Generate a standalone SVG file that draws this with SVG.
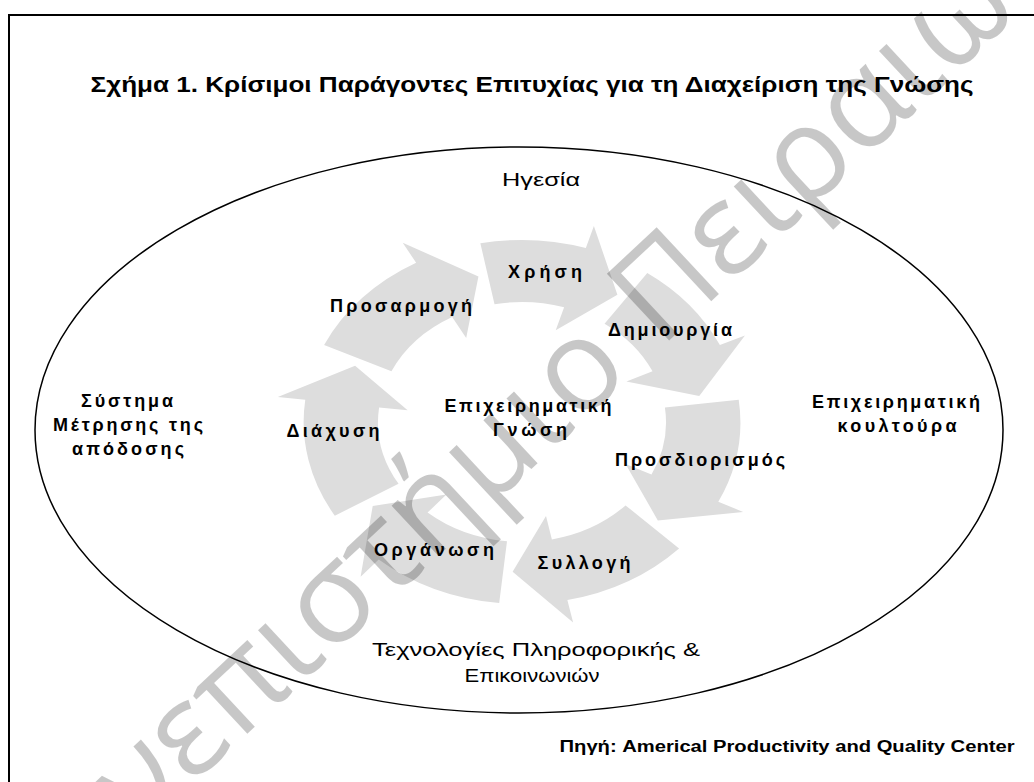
<svg xmlns="http://www.w3.org/2000/svg" width="1034" height="782" viewBox="0 0 1034 782">
<style>
  .lbl { font-family: "Liberation Sans", Arial, sans-serif; font-size: 18px; font-weight: bold; fill: #000; text-anchor: middle; }
  .reg { font-family: "Liberation Sans", Arial, sans-serif; font-size: 18px; font-weight: normal; fill: #000; text-anchor: middle; }
  .title { font-family: "Liberation Sans", Arial, sans-serif; font-size: 22px; font-weight: bold; fill: #000; text-anchor: middle; }
  .src { font-family: "Liberation Sans", Arial, sans-serif; font-size: 16px; font-weight: bold; fill: #000; text-anchor: middle; }
  .arrow { fill: #dddddd; stroke: none; }
  .wm { font-family: "Open Sans", "Noto Sans", sans-serif; font-size: 128px; font-weight: normal; fill: #000; fill-opacity: 0.22; }
</style>
<rect width="1034" height="782" fill="#fff"/>
<rect x="9" y="15" width="1040" height="800" fill="none" stroke="#000" stroke-width="2"/>

<g id="title">
  <text class="title" x="532" y="92" textLength="883" lengthAdjust="spacingAndGlyphs">Σχήμα 1. Κρίσιμοι Παράγοντες Επιτυχίας για τη Διαχείριση της Γνώσης</text>
</g>

<g id="outer-ellipse">
  <ellipse cx="519" cy="430" rx="484" ry="283" fill="none" stroke="#000" stroke-width="1.5"/>
</g>

<g id="cycle-arrows" transform="translate(522,422) scale(1.2,1)">
  <path class="arrow" d="M -164.9,-76.9 A182,182 0 0 1 -88.2,-159.2 L -99.4,-179.3 L -36.3,-145.5 L -46.5,-84.0 L -58.2,-105.0 A120,120 0 0 0 -108.8,-50.7 Z"/>
  <path class="arrow" d="M -34.7,-178.7 A182,182 0 0 1 53.2,-174.0 L 59.9,-196.0 L 79.5,-127.2 L 28.1,-91.8 L 35.1,-114.8 A120,120 0 0 0 -22.9,-117.8 Z"/>
  <path class="arrow" d="M 104.4,-149.1 A182,182 0 0 1 164.9,-76.9 L 185.8,-86.6 L 147.7,-26.0 L 87.0,-40.6 L 108.8,-50.7 A120,120 0 0 0 68.8,-98.3 Z"/>
  <path class="arrow" d="M 180.6,-22.2 A182,182 0 0 1 163.6,79.8 L 184.3,89.9 L 113.2,98.4 L 86.3,42.1 L 107.9,52.6 A120,120 0 0 0 119.1,-14.6 Z"/>
  <path class="arrow" d="M 130.9,126.4 A182,182 0 0 1 37.8,178.0 L 42.6,200.5 L -7.8,149.8 L 20.0,93.9 L 24.9,117.4 A120,120 0 0 0 86.3,83.4 Z"/>
  <path class="arrow" d="M -19.0,181.0 A182,182 0 0 1 -119.4,137.4 L -134.5,154.7 L -124.4,83.9 L -63.0,72.5 L -78.7,90.6 A120,120 0 0 0 -12.5,119.3 Z"/>
  <path class="arrow" d="M -156.0,93.7 A182,182 0 0 1 -180.6,-22.2 L -203.5,-25.0 L -139.1,-56.2 L -95.3,-11.7 L -119.1,-14.6 A120,120 0 0 0 -102.9,61.8 Z"/>
</g>

<g id="node-igesia"><text class="reg" x="541" y="186" textLength="78" lengthAdjust="spacingAndGlyphs">Ηγεσία</text></g>
<g id="node-xrisi"><text class="lbl" x="545" y="278" textLength="74" lengthAdjust="spacing">Χρήση</text></g>
<g id="node-prosarmogi"><text class="lbl" x="401" y="312" textLength="142" lengthAdjust="spacing">Προσαρμογή</text></g>
<g id="node-dimiourgia"><text class="lbl" x="670" y="336" textLength="124" lengthAdjust="spacing">Δημιουργία</text></g>
<g id="node-systima">
  <text class="lbl" x="127" y="407" textLength="92" lengthAdjust="spacing">Σύστημα</text>
  <text class="lbl" x="128" y="431" textLength="150" lengthAdjust="spacing">Μέτρησης της</text>
  <text class="lbl" x="128" y="455" textLength="112" lengthAdjust="spacing">απόδοσης</text>
</g>
<g id="node-diaxysi"><text class="lbl" x="333" y="437" textLength="93" lengthAdjust="spacing">Διάχυση</text></g>
<g id="node-gnosi">
  <text class="lbl" x="528" y="412" textLength="167" lengthAdjust="spacing">Επιχειρηματική</text>
  <text class="lbl" x="530" y="436" textLength="74" lengthAdjust="spacing">Γνώση</text>
</g>
<g id="node-koultoura">
  <text class="lbl" x="896" y="408" textLength="168" lengthAdjust="spacing">Επιχειρηματική</text>
  <text class="lbl" x="897" y="432" textLength="119" lengthAdjust="spacing">κουλτούρα</text>
</g>
<g id="node-prosdiorismos"><text class="lbl" x="700" y="466" textLength="170" lengthAdjust="spacing">Προσδιορισμός</text></g>
<g id="node-organosi"><text class="lbl" x="434" y="556" textLength="120" lengthAdjust="spacing">Οργάνωση</text></g>
<g id="node-syllogi"><text class="lbl" x="584" y="569" textLength="93" lengthAdjust="spacing">Συλλογή</text></g>
<g id="node-tpe">
  <text class="reg" x="536" y="656" textLength="328" lengthAdjust="spacingAndGlyphs">Τεχνολογίες Πληροφορικής &amp;</text>
  <text class="reg" x="532" y="682" textLength="135" lengthAdjust="spacingAndGlyphs">Επικοινωνιών</text>
</g>
<g id="source"><text class="src" x="787" y="752" textLength="455" lengthAdjust="spacingAndGlyphs">Πηγή: Americal Productivity and Quality Center</text></g>

<g id="watermark" transform="translate(660,349) rotate(-43)">
  <text class="wm" x="0" y="0">Πειραιώς</text>
  <text class="wm" x="-36" y="0" text-anchor="end">Πανεπιστήμιο</text>
</g>
</svg>
